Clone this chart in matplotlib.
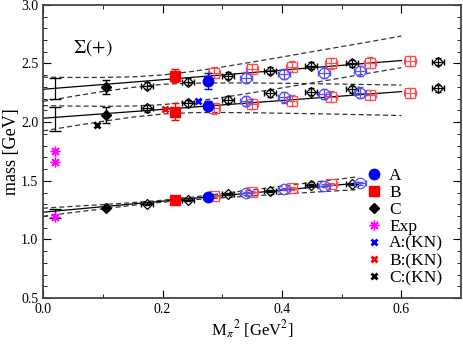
import numpy as np
import matplotlib
matplotlib.use('Agg')
import matplotlib.pyplot as plt
from matplotlib.lines import Line2D

plt.rcParams['font.family'] = ['Liberation Serif', 'DejaVu Serif']
plt.rcParams['mathtext.fontset'] = 'stix'

# physical point
x_phys = 0.0195
exp_mass = [1.189, 1.66, 1.75]

# filled points: C, B, A  (ground, 1st, 2nd excited)
xC, xB, xA = 0.105, 0.221, 0.276
C_vals = [1.265, 2.061, 2.298]
B_vals = [1.333, 2.090, 2.397]
A_vals = [1.359, 2.141, 2.354]
C_err = [0.008, 0.065, 0.06]
B_err = [0.010, 0.07, 0.058]
A_err = [0.010, 0.04, 0.068]

# KN thresholds (A, B, C)
kn_x = [0.259, 0.204, 0.090]
kn_y = [2.183, 2.110, 1.976]

# open black diamonds
ob_x = [0.174, 0.242, 0.310, 0.380, 0.449, 0.517, 0.662]
ob_g = [1.305, 1.339, 1.385, 1.413, 1.462, 1.473, np.nan]
ob_1 = [2.118, 2.161, 2.190, 2.247, 2.260, 2.280, 2.289]
ob_2 = [2.311, 2.346, 2.394, 2.437, 2.480, 2.500, 2.516]

# open red squares
orr_x = [0.286, 0.350, 0.416, 0.482, 0.547, 0.615]
orr_g = [1.370, 1.405, 1.436, 1.473, np.nan, np.nan]
orr_1 = [2.118, 2.153, 2.183, 2.218, 2.232, 2.247]
orr_2 = [2.423, 2.454, 2.474, 2.500, 2.508, 2.522]

# open blue circles
obl_x = [0.339, 0.404, 0.471, 0.530]
obl_g = [1.393, 1.430, 1.458, 1.478]
obl_1 = [2.181, 2.212, 2.240, 2.252]
obl_2 = [2.380, 2.409, 2.423, 2.437]

# chiral extrapolations at physical point
ext_y = [1.222, 2.026, 2.284]
ext_err = [0.040, 0.10, 0.09]

# fit lines
band_x = [0.0, 0.05, 0.1, 0.15, 0.2, 0.25, 0.3, 0.35, 0.4, 0.45, 0.5, 0.55, 0.6]
gnd_x = [0.0, 0.05, 0.1, 0.15, 0.2, 0.25, 0.3, 0.35, 0.4, 0.45, 0.5, 0.527]

gnd_fit = [1.232, 1.480]
gnd_up = [1.266, 1.282, 1.297, 1.314, 1.334, 1.361, 1.391, 1.423, 1.454, 1.486, 1.517, 1.534]
gnd_lo = [1.198, 1.230, 1.261, 1.291, 1.318, 1.338, 1.355, 1.371, 1.386, 1.402, 1.417, 1.425]

mid_fit = [2.033, 2.260]
mid_up = [2.141, 2.137, 2.135, 2.137, 2.149, 2.175, 2.210, 2.250, 2.292, 2.334, 2.377, 2.421, 2.464]
mid_lo = [1.925, 1.967, 2.007, 2.043, 2.069, 2.081, 2.082, 2.080, 2.076, 2.072, 2.067, 2.062, 2.056]

top_fit = [2.280, 2.525]
top_up = [2.383, 2.381, 2.381, 2.386, 2.402, 2.432, 2.470, 2.512, 2.555, 2.600, 2.644, 2.688, 2.734]
top_lo = [2.177, 2.220, 2.261, 2.296, 2.322, 2.332, 2.334, 2.334, 2.331, 2.328, 2.324, 2.320, 2.316]

fig = plt.figure(figsize=(4.63, 3.45), dpi=100)
ax = fig.add_axes([0.093, 0.136, 0.903, 0.85])

dash = dict(color='#333333', lw=0.9, ls=(0, (4, 2.5)))
for xs, fit, up, lo in [(gnd_x, gnd_fit, gnd_up, gnd_lo),
                        (band_x, mid_fit, mid_up, mid_lo),
                        (band_x, top_fit, top_up, top_lo)]:
    ax.plot([xs[0], xs[-1]], fit, color='black', lw=0.9)
    ax.plot(xs, up, **dash)
    ax.plot(xs, lo, **dash)

ax.errorbar([x_phys] * 3, ext_y, yerr=ext_err, fmt='none', ecolor='black',
            elinewidth=0.9, capsize=4)

xerr = 0.010
eb = dict(xerr=xerr, fmt='none', elinewidth=0.9, capsize=2.5)
red_o = '#ff4d4d'
blue_o = '#5050ff'
for ys, ye in ((ob_g, 0.01), (ob_1, 0.03), (ob_2, 0.03)):
    ax.errorbar(ob_x, ys, yerr=ye, ecolor='black', **eb)
    ax.plot(ob_x, ys, 'D', mfc='none', mec='black', ms=5, mew=0.9)
for ys, ye in ((orr_g, 0.012), (orr_1, 0.045), (orr_2, 0.045)):
    ax.errorbar(orr_x, ys, yerr=ye, ecolor=red_o, **eb)
    ax.plot(orr_x, ys, 's', mfc='none', mec=red_o, ms=7, mew=0.9)
for ys, ye in ((obl_g, 0.012), (obl_1, 0.045), (obl_2, 0.045)):
    ax.errorbar(obl_x, ys, yerr=ye, ecolor=blue_o, **eb)
    ax.plot(obl_x, ys, 'o', mfc='none', mec=blue_o, ms=7.5, mew=0.9)

ax.errorbar([xA] * 3, A_vals, yerr=A_err, fmt='o', color='blue',
            ms=7.5, elinewidth=0.9, capsize=3)
ax.errorbar([xB] * 3, B_vals, yerr=B_err, fmt='s', color='red',
            ms=6.5, elinewidth=0.9, capsize=3)
ax.errorbar([xC] * 3, C_vals, yerr=C_err, fmt='D', color='black',
            ms=5.5, elinewidth=0.9, capsize=3)
ax.plot([x_phys] * 3, exp_mass, ls='none', marker=(8, 2, 0), color='magenta',
        ms=7, mew=1)
kn_col = ['blue', 'red', 'black']
for i in range(3):
    ax.plot(kn_x[i], kn_y[i], 'x', color=kn_col[i], ms=5, mew=2)

ax.text(0.072, 0.838, r'$\Sigma(+)$', transform=ax.transAxes, fontsize=14)

ax.set_xlim(0, 0.7)
ax.set_ylim(0.5, 3.0)
ax.set_xticks([0.0, 0.2, 0.4, 0.6])
ax.set_yticks([0.5, 1.0, 1.5, 2.0, 2.5, 3.0])
ax.set_xticks(np.arange(0.1, 0.7, 0.2), minor=True)
ax.set_yticks(np.arange(0.5, 3.0, 0.1), minor=True)
ax.tick_params(which='both', direction='in', top=True, right=True, labelsize=10)
ax.tick_params(which='major', length=6)
ax.tick_params(which='minor', length=3)
for s in ax.spines.values():
    s.set_linewidth(1.3)
    s.set_color('#444444')
ax.set_xlabel(r'M$_\pi$$^2$ [GeV$^2$]', fontsize=12, labelpad=2)
ax.set_ylabel('mass [GeV]', fontsize=13, labelpad=1)

handles = [
    Line2D([], [], ls='none', marker='o', color='blue', ms=7.5),
    Line2D([], [], ls='none', marker='s', color='red', ms=6.5),
    Line2D([], [], ls='none', marker='D', color='black', ms=5.5),
    Line2D([], [], ls='none', marker=(8, 2, 0), color='magenta', ms=7, mew=1),
    Line2D([], [], ls='none', marker='x', color='blue', ms=5, mew=2),
    Line2D([], [], ls='none', marker='x', color='red', ms=5, mew=2),
    Line2D([], [], ls='none', marker='x', color='black', ms=5, mew=2),
]
labels = ['A', 'B', 'C', 'Exp', 'A:(KN)', 'B:(KN)', 'C:(KN)']
ax.legend(handles, labels, loc='lower right', frameon=False, fontsize=12.5,
          handletextpad=0.3, labelspacing=0.05, handlelength=1.2,
          borderaxespad=0.3, bbox_to_anchor=(0.986, 0.0))

fig.savefig('out.png', dpi=100)
